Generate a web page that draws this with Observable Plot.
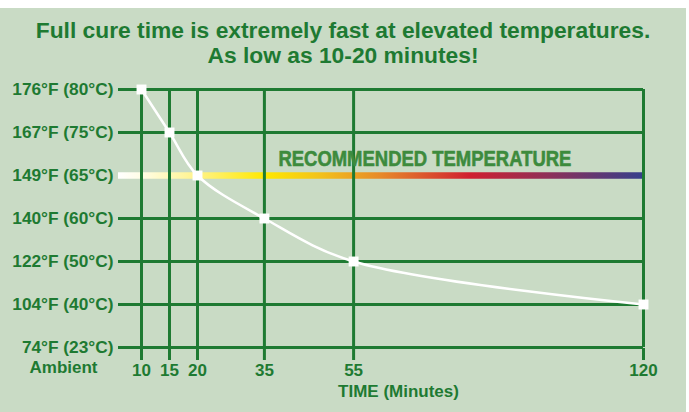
<!DOCTYPE html>
<html><head><meta charset="utf-8">
<script src="https://cdn.jsdelivr.net/npm/d3@7"></script>
<script src="https://cdn.jsdelivr.net/npm/@observablehq/plot@0.6"></script>
<style>
html,body{margin:0;padding:0;background:#fff;}
#panel{position:absolute;left:0;top:8px;width:686px;height:404px;background:#c9dbc5;font-family:"Liberation Sans",Arial,sans-serif;}
#title{box-sizing:border-box;height:62px;padding-top:10px;text-align:center;font-weight:bold;font-size:22.8px;line-height:25px;color:#1e7a32;}
#chart svg{display:block;}
</style></head><body>
<div id="panel">
  <div id="title">Full cure time is extremely fast at elevated temperatures.<br>As low as 10-20 minutes!</div>
  <div id="chart"></div>
</div>
<script>
// Data
const times = [10, 15, 20, 35, 55, 120];
const cureTemps = ["176°F (80°C)", "167°F (75°C)", "149°F (65°C)", "140°F (60°C)", "122°F (50°C)", "104°F (40°C)"];
const tempLabels = ["176°F (80°C)", "167°F (75°C)", "149°F (65°C)", "140°F (60°C)", "122°F (50°C)", "104°F (40°C)", "74°F (23°C)"];
const ambientNote = "Ambient";
const recommendedTemp = "149°F (65°C)";
const recommendedLabel = "RECOMMENDED TEMPERATURE";
const recommendedFrom = 35;
const xTitle = "TIME (Minutes)";

const data = times.map((t, i) => ({time: t, temp: cureTemps[i]}));

const green = "#1e7a32";
const W = 686, H = 342, mL = 118, mR = 43, mT = 17, mB = 64;
const topT = tempLabels[0], botT = tempLabels[tempLabels.length - 1];

const chart = Plot.plot({
  width: W, height: H,
  marginLeft: mL, marginRight: mR, marginTop: mT, marginBottom: mB,
  style: {background: "transparent", color: green, fontFamily: "'Liberation Sans', Arial, sans-serif", fontWeight: "bold"},
  x: {type: "linear", domain: [10, 20, 120], range: [141, 197, 643], ticks: times},
  y: {type: "point", domain: tempLabels, padding: 0},
  marks: [
    Plot.ruleY(tempLabels, {stroke: green, strokeWidth: 3}),
    Plot.ruleY([recommendedTemp], {stroke: "url(#recGrad)", strokeWidth: 6.5}),
    Plot.ruleX(times, {x: d => d, y1: () => topT, y2: () => botT, stroke: green, strokeWidth: 3}),
    Plot.axisX(times, {tickSize: 12, tickPadding: 3, fontSize: 17, fontWeight: "bold", strokeWidth: 3, label: null}),
    Plot.axisY({tickSize: 0, tickPadding: 5, fontSize: 17.3, fontWeight: "bold", label: null}),
    Plot.line(data, {x: "time", y: "temp", curve: "catmull-rom", stroke: "white", strokeWidth: 2.5}),
    Plot.dot(data, {x: "time", y: "temp", symbol: "square", r: 5.6, fill: "white", stroke: null}),
    Plot.text([{t: recommendedFrom, y: recommendedTemp, s: recommendedLabel}], {x: "t", y: "y", text: "s", dx: 14, dy: -16.5, textAnchor: "start", lineAnchor: "middle", fontSize: 22, fontWeight: "bold", fill: "#3d8b3d", stroke: "#3d8b3d", strokeWidth: 0.6, className: "rec-label"}),
    Plot.text([ambientNote], {text: d => d, frameAnchor: "bottom-left", lineAnchor: "middle", dx: -55, dy: 19, textAnchor: "middle", fontSize: 17, fontWeight: "bold", fill: green}),
    Plot.text([xTitle], {text: d => d, frameAnchor: "bottom", lineAnchor: "middle", dx: 17.5, dy: 43, textAnchor: "middle", fontSize: 17, fontWeight: "bold", fill: green})
  ]
});

// gradient definition for the recommended temperature band
const svg = d3.select(chart);
const defs = svg.insert("defs", ":first-child");
const grad = defs.append("linearGradient")
  .attr("id", "recGrad").attr("gradientUnits", "userSpaceOnUse")
  .attr("x1", mL).attr("x2", W - mR).attr("y1", 0).attr("y2", 0);
[[0, "#ffffff"], [0.05, "#fffde2"], [0.15, "#fff38a"], [0.28, "#ffe800"], [0.38, "#f3c41a"],
 [0.5, "#e78a2a"], [0.67, "#d02030"], [0.82, "#8e3058"], [1, "#363f8c"]]
  .forEach(([o, c]) => grad.append("stop").attr("offset", o).attr("stop-color", c));

// condense the label like the original's narrow face
svg.selectAll(".rec-label text").attr("textLength", 293).attr("lengthAdjust", "spacingAndGlyphs");

document.getElementById("chart").appendChild(chart);
</script>
</body></html>
